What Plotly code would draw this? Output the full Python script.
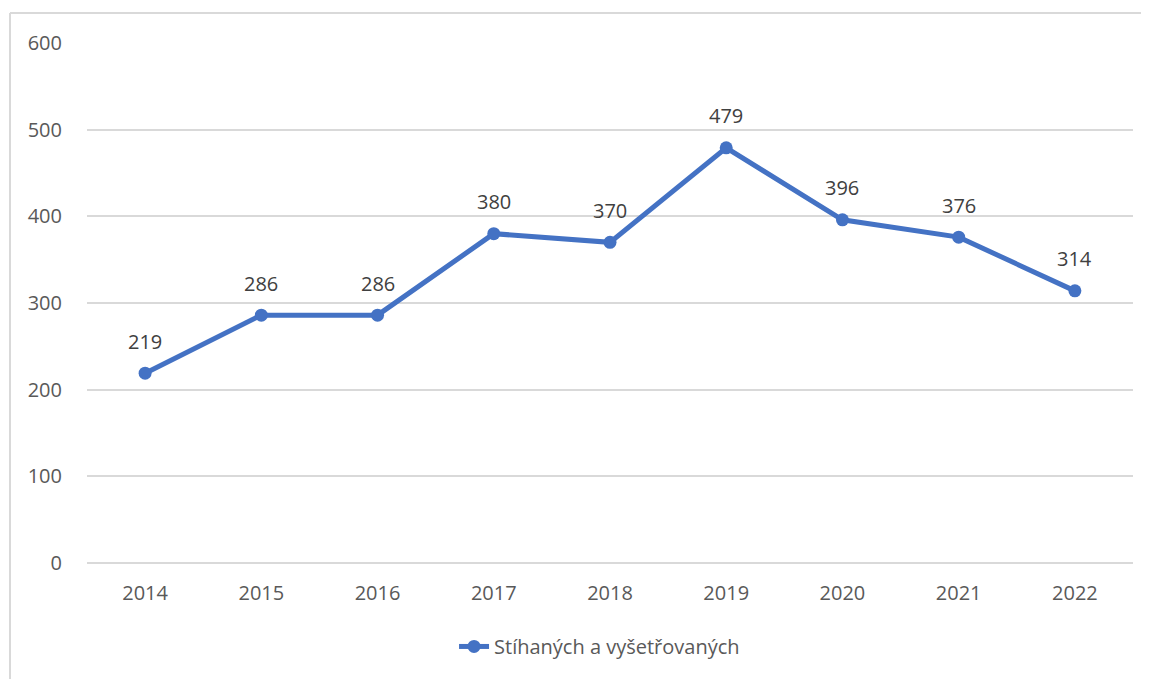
import plotly.graph_objects as go

years = ["2014", "2015", "2016", "2017", "2018", "2019", "2020", "2021", "2022"]
counts = [219, 286, 286, 380, 370, 479, 396, 376, 314]
series_name = "Stíhaných a vyšetřovaných"

# the page body has an 8px margin, so the figure is shifted by that amount
off = 8
W, H = 1149 - off, 679 - off
ml, mr, mt, mb = 87 - off, 16, 43 - off, 116
pw, ph = W - ml - mr, H - mt - mb

blue = "#4472C4"
txt = "#595959"
grid = "#D9D9D9"
font_family = "Open Sans, Noto Sans, sans-serif"
fs = 20

fig = go.Figure()
fig.add_trace(go.Scatter(
    x=years, y=counts, name=series_name,
    mode="lines+markers",
    line=dict(color=blue, width=5),
    marker=dict(color=blue, size=13),
    showlegend=True,
))

# data labels above each point (category axis -> use the category index)
for i, v in enumerate(counts):
    fig.add_annotation(x=i, y=v, xref="x", yref="y", text=str(v), showarrow=False,
                       yshift=32, font=dict(size=fs, color="#404040", family=font_family))

# chart border (only top and left edges visible in the crop)
bx = (10 - off - ml) / pw
by = 1 + (mt - (13 - off)) / ph
fig.add_shape(type="line", xref="paper", yref="paper", x0=bx, x1=(W - ml) / pw + 0.01,
              y0=by, y1=by, line=dict(color=grid, width=2))
fig.add_shape(type="line", xref="paper", yref="paper", x0=bx, x1=bx,
              y0=by, y1=-(mb + 10) / ph, line=dict(color=grid, width=2))

fig.update_layout(
    width=W, height=H,
    margin=dict(l=ml, r=mr, t=mt, b=mb),
    paper_bgcolor="white", plot_bgcolor="white",
    font=dict(family=font_family, size=fs, color=txt),
    xaxis=dict(type="category", range=[-0.5, 8.5], showgrid=False, showline=False,
               ticks="", tickfont=dict(size=fs, color=txt), ticklabelstandoff=16),
    yaxis=dict(range=[0, 600], dtick=100, showgrid=True, gridcolor=grid, gridwidth=1.5,
               zeroline=True, zerolinecolor=grid, zerolinewidth=1.5, showline=False,
               ticks="", tickfont=dict(size=fs, color=txt), ticklabelstandoff=24),
    legend=dict(orientation="h", x=0.49, xanchor="center", y=-0.123, yanchor="top",
                font=dict(size=fs, color=txt), itemwidth=30),
)

fig.write_html("out.html")
